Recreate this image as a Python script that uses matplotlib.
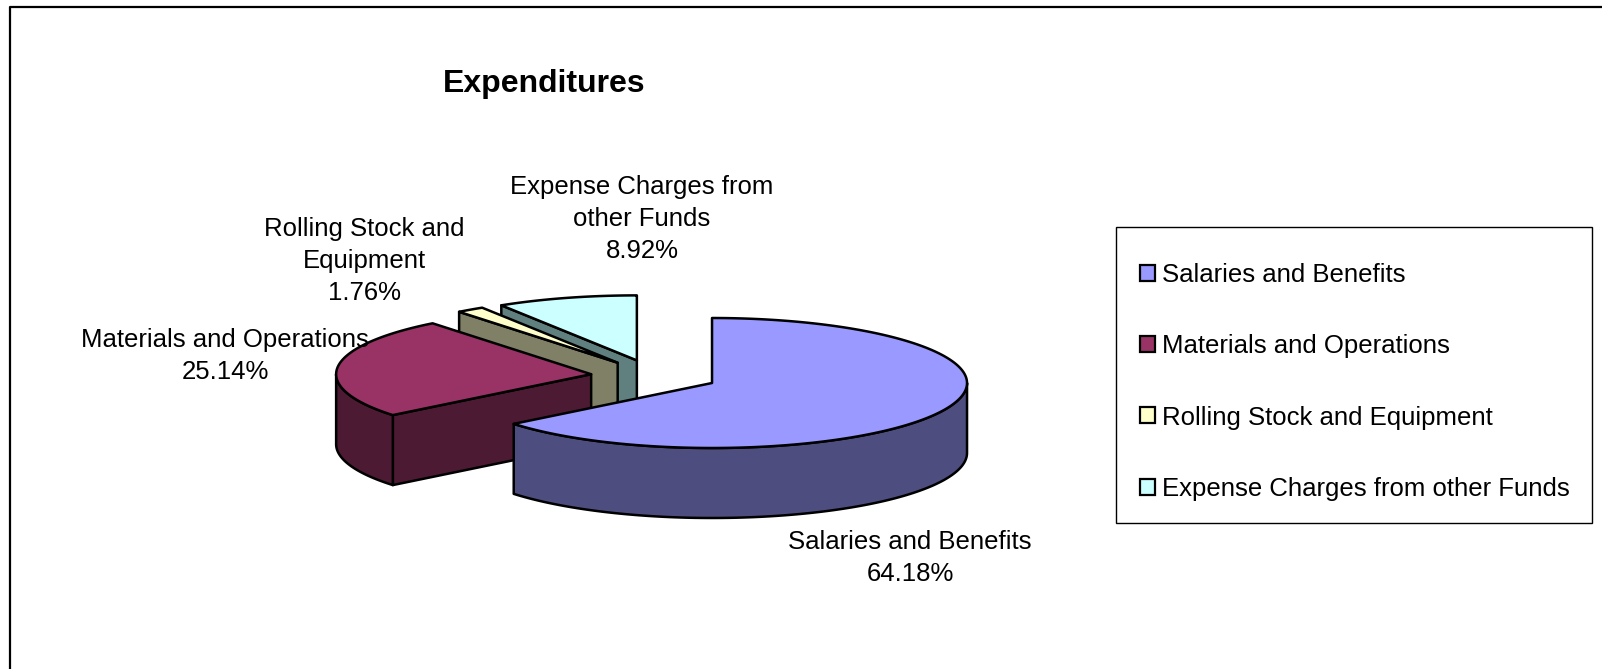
import numpy as np
import matplotlib
matplotlib.use("Agg")
import matplotlib.pyplot as plt
from matplotlib.patches import Polygon, Rectangle, Patch

plt.rcParams['font.family'] = ['Liberation Sans', 'DejaVu Sans']

# ---- data ----
categories = ["Salaries and Benefits", "Materials and Operations",
              "Rolling Stock and Equipment", "Expense Charges from other Funds"]
values = [64.18, 25.14, 1.76, 8.92]
label_texts = ["Salaries and Benefits\n64.18%",
               "Materials and Operations\n25.14%",
               "Rolling Stock and\nEquipment\n1.76%",
               "Expense Charges from\nother Funds\n8.92%"]
title = "Expenditures"

# ---- style ----
top_colors = ["#9999FF", "#993366", "#FFFFCC", "#CCFFFF"]
side_colors = ["#4D4D80", "#4D1A33", "#808066", "#608080"]
label_pos = [(910, 558), (225, 356), (364, 261), (642, 219)]

W, H = 1602, 669
fig = plt.figure(figsize=(W / 100, H / 100), dpi=100)
ax = fig.add_axes([0, 0, 1, 1])
ax.set_xlim(0, W)
ax.set_ylim(H, 0)
ax.axis('off')

# outer frame (left & top visible)
ax.plot([10, 10, W + 5], [H + 5, 7, 7], color='black', lw=1.6, solid_capstyle='butt')

# pie geometry (pixel units)
cx, cy = 654.5, 376.0
Rx, Ry, depth, explode = 255.0, 65.0, 70.0, 0.25
lw = 1.8

total = sum(values)
fracs = [v / total for v in values]
starts = np.concatenate([[0], np.cumsum(fracs)[:-1]]) * 360
ends = np.cumsum(fracs) * 360


def rim(ox, oy, ang, dz=0.0):
    a = np.radians(ang)
    return ox + Rx * np.sin(a), oy - Ry * np.cos(a) + dz


order = [3, 2, 1, 0]
for i in order:
    a, b = starts[i], ends[i]
    m = np.radians((a + b) / 2)
    ox = cx + explode * Rx * np.sin(m)
    oy = cy - explode * Ry * np.cos(m)
    # radial face at start angle
    if np.sin(np.radians(a)) < -1e-6:
        x1, y1 = rim(ox, oy, a)
        poly = [(ox, oy), (x1, y1), (x1, y1 + depth), (ox, oy + depth)]
        ax.add_patch(Polygon(poly, closed=True, fc=side_colors[i], ec='black', lw=lw, joinstyle='round'))
    # radial face at end angle
    if np.sin(np.radians(b)) > 1e-6:
        x1, y1 = rim(ox, oy, b)
        poly = [(ox, oy), (x1, y1), (x1, y1 + depth), (ox, oy + depth)]
        ax.add_patch(Polygon(poly, closed=True, fc=side_colors[i], ec='black', lw=lw, joinstyle='round'))
    # outer wall
    lo, hi = max(a, 90), min(b, 270)
    if hi > lo:
        t = np.linspace(lo, hi, 120)
        xs, ys = rim(ox, oy, t)
        pts = list(zip(xs, ys)) + list(zip(xs[::-1], ys[::-1] + depth))
        ax.add_patch(Polygon(pts, closed=True, fc=side_colors[i], ec='black', lw=lw, joinstyle='round'))
    # top face
    t = np.linspace(a, b, 200)
    xs, ys = rim(ox, oy, t)
    pts = [(ox, oy)] + list(zip(xs, ys))
    ax.add_patch(Polygon(pts, closed=True, fc=top_colors[i], ec='black', lw=lw, joinstyle='round'))

# data labels
for txt, (x, y) in zip(label_texts, label_pos):
    ax.text(x, y, txt, ha='center', va='center', fontsize=18.5, linespacing=1.44, color='black')

# title
ax.text(544, 84, title, ha='center', va='center', fontsize=23, fontweight='bold')

# legend box
ax.add_patch(Rectangle((1116, 227), 476, 296, fc='white', ec='black', lw=1.0))
handles = [Patch(facecolor=c, edgecolor='black', linewidth=1.6) for c in top_colors]
fig.legend(handles, categories, loc='upper left',
           bbox_to_anchor=(1140 / W, 1 - 263 / H), frameon=False,
           fontsize=18.5, borderpad=0, borderaxespad=0,
           handlelength=0.58, handleheight=0.58, handletextpad=0.27,
           labelspacing=1.84)

fig.savefig("out.png", dpi=100)
